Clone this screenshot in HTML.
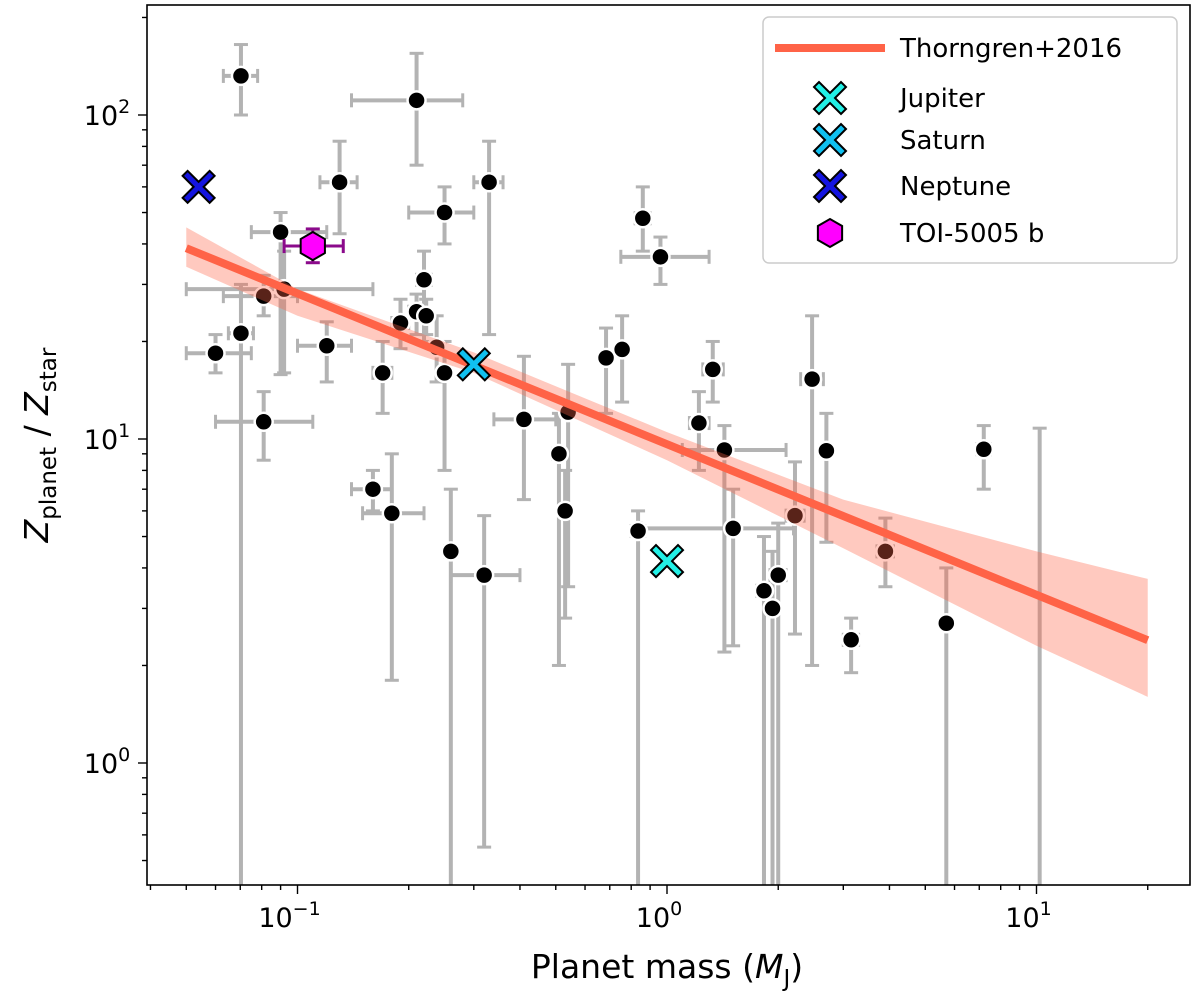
<!DOCTYPE html>
<html><head><meta charset="utf-8"><style>
html,body{margin:0;padding:0;background:#fff;}
svg{display:block;font-family:"DejaVu Sans","Liberation Sans",sans-serif;}
</style></head><body>
<svg id="chart" width="1200" height="1000" viewBox="0 0 1200 1000">
</svg>
<script>
const mass   =[0.0703,0.21,0.13,0.33,0.09,0.25,0.86,0.96,0.22,0.081,0.092,0.21,0.223,0.19,0.0703,0.238,0.12,0.06,0.684,0.756,0.17,0.25,1.33,2.47,0.41,0.54,0.081,1.22,1.43,0.51,2.7,7.2,0.16,0.53,0.18,2.22,1.51,0.835,0.26,3.9,0.32,2.0,1.83,1.93,3.15,5.7];
const zratio =[132,111,62,62,43.5,50,48,36.5,31,27.6,29,24.7,24,22.8,21.2,19.2,19.4,18.4,17.8,18.9,16.0,16.0,16.4,15.3,11.5,12.1,11.3,11.2,9.25,9.0,9.2,9.3,7.0,6.0,5.9,5.8,5.3,5.2,4.5,4.5,3.8,3.8,3.4,3.0,2.4,2.7];
const massLo =[0.063,0.14,0.115,0.3,0.075,0.2,0.82,0.75,0.21,0.063,0.05,0.2,0.215,0.18,0.065,0.23,0.1,0.05,0.66,0.73,0.16,0.24,1.25,2.3,0.34,0.52,0.06,1.15,1.1,0.49,2.6,6.9,0.14,0.51,0.15,2.1,0.85,0.8,0.25,3.7,0.26,1.9,1.75,1.85,3.0,5.5];
const massHi =[0.078,0.28,0.145,0.36,0.12,0.3,0.9,1.3,0.23,0.1,0.16,0.22,0.23,0.2,0.076,0.245,0.14,0.075,0.71,0.78,0.18,0.26,1.42,2.65,0.5,0.56,0.11,1.3,2.1,0.53,2.8,7.5,0.18,0.55,0.22,2.35,2.2,0.87,0.27,4.1,0.4,2.1,1.9,2.0,3.3,5.9];
const zLo    =[100,70,43,21,15.8,40,38,30,20,24,16,21,21,19,0.4,15,15,16,12,13,12,8,13,2.0,6.5,3.5,8.6,8,2.2,2,4.8,7,6,2.8,1.8,2.5,2.3,0.4,0.4,3.5,0.55,0.4,0.4,0.4,1.9,0.4];
const zHi    =[165,155,83,83,50,60,60,42,38,32,38,28,27,27,30,24,23,21,22,24,20,20,20,24,18,17,14,14,11,12,12,11,8,8,9,8.5,7,6,7,5.7,5.8,5.5,5,4.5,2.8,4];
const extraMass=[10.2], extraZLo=[0.4], extraZHi=[10.8];
const fitCoef=[0.984,-0.465]; // log10 intercept, slope
const fitRange=[0.05,20];
const bandMass=[0.05,0.1,0.3,1,3,10,20];
const bandUpper=[45,29,18.5,10.5,6.5,4.5,3.7];
const bandLower=[34,24,16,8.6,4.6,2.3,1.6];
const solar=[{name:'Jupiter',m:1.0,z:4.2,c:'#22f0e6'},{name:'Saturn',m:0.30,z:17.0,c:'#10c0f0'},{name:'Neptune',m:0.054,z:60,c:'#1414e0'}];
const toi={m:0.110,z:39.4,mlo:0.092,mhi:0.133,zlo:35,zhi:44.5};
const xTicks=[0.1,1,10], xTickExp=['−1','0','1'];
const yTicks=[1,10,100], yTickExp=['0','1','2'];

const L=147,R=1190,T=5,B=885;
const X=m=>667+369.5*Math.log10(m);
const Y=v=>763-324*Math.log10(v);
const svg=document.getElementById('chart');
const NS='http://www.w3.org/2000/svg';
function mk(tag,attrs,parent){const e=document.createElementNS(NS,tag);for(const k in attrs)e.setAttribute(k,attrs[k]);(parent||svg).appendChild(e);return e;}
const clip=mk('clipPath',{id:'pc'});mk('rect',{x:L,y:T,width:R-L,height:B-T},clip);
const plot=mk('g',{'clip-path':'url(#pc)'});


const ecol='#b3b3b3';
// error bars
for(let i=0;i<mass.length;i++){
  const g=mk('g',{},plot);
  
  
  const x=X(mass[i]),y=Y(zratio[i]);
  mk('line',{x1:X(massLo[i]),x2:X(massHi[i]),y1:y,y2:y,stroke:ecol,'stroke-width':4},g);
  mk('line',{x1:x,x2:x,y1:Y(zLo[i]),y2:Y(zHi[i]),stroke:ecol,'stroke-width':4},g);
  [[X(massLo[i]),y,0],[X(massHi[i]),y,0],[x,Y(zLo[i]),1],[x,Y(zHi[i]),1]].forEach(([a,b,v])=>{
    if(v) mk('line',{x1:a-7,x2:a+7,y1:b,y2:b,stroke:ecol,'stroke-width':3},g);
    else mk('line',{x1:a,x2:a,y1:b-7,y2:b+7,stroke:ecol,'stroke-width':3},g);
  });
}
for(let i=0;i<extraMass.length;i++){
  const e=mk('line',{x1:X(extraMass[i]),x2:X(extraMass[i]),y1:Y(extraZLo[i]),y2:Y(extraZHi[i]),stroke:ecol,'stroke-width':4},plot);
  
  
  mk('line',{x1:X(extraMass[i])-7,x2:X(extraMass[i])+7,y1:Y(extraZHi[i]),y2:Y(extraZHi[i]),stroke:ecol,'stroke-width':3},plot);
}
// points
for(let i=0;i<mass.length;i++){
  const c=mk('circle',{cx:X(mass[i]),cy:Y(zratio[i]),r:9,fill:'#000',stroke:'#fff','stroke-width':2.5},plot);
  
  
}
// band
let d='';
bandMass.forEach((m,i)=>{d+=(i?'L':'M')+X(m)+','+Y(bandUpper[i]);});
for(let i=bandMass.length-1;i>=0;i--)d+='L'+X(bandMass[i])+','+Y(bandLower[i]);
const band=mk('path',{d:d+'Z',fill:'#ff6347','fill-opacity':0.35,stroke:'none'},plot);


const fv=m=>Math.pow(10,fitCoef[0]+fitCoef[1]*Math.log10(m));
const fl=mk('line',{x1:X(fitRange[0]),y1:Y(fv(fitRange[0])),x2:X(fitRange[1]),y2:Y(fv(fitRange[1])),stroke:'#ff6347','stroke-width':8},plot);


function xmark(cx,cy,s,col,parent){
  const p=`M${cx-s},${cy-s+5}L${cx-s+5},${cy-s}L${cx},${cy-5}L${cx+s-5},${cy-s}L${cx+s},${cy-s+5}L${cx+5},${cy}L${cx+s},${cy+s-5}L${cx+s-5},${cy+s}L${cx},${cy+5}L${cx-s+5},${cy+s}L${cx-s},${cy+s-5}L${cx-5},${cy}Z`;
  return mk('path',{d:p,fill:col,stroke:'#000','stroke-width':2,'stroke-linejoin':'miter'},parent);
}
function hex(cx,cy,r,parent){
  let p='';for(let k=0;k<6;k++){const a=Math.PI/6+k*Math.PI/3;p+=(k?'L':'M')+(cx+r*Math.cos(a))+','+(cy+r*Math.sin(a));}
  return mk('path',{d:p+'Z',fill:'#ff00ff',stroke:'#000','stroke-width':2},parent);
}
solar.forEach(s=>{
  const e=xmark(X(s.m),Y(s.z),16,s.c,plot);
  
  
});
// TOI
const tg=mk('g',{},plot);


const tx=X(toi.m),ty=Y(toi.z),pc='#8b0a8b';
mk('line',{x1:X(toi.mlo),x2:X(toi.mhi),y1:ty,y2:ty,stroke:pc,'stroke-width':3},tg);
mk('line',{x1:tx,x2:tx,y1:Y(toi.zlo),y2:Y(toi.zhi),stroke:pc,'stroke-width':3},tg);
mk('line',{x1:X(toi.mlo),x2:X(toi.mlo),y1:ty-7,y2:ty+7,stroke:pc,'stroke-width':3},tg);
mk('line',{x1:X(toi.mhi),x2:X(toi.mhi),y1:ty-7,y2:ty+7,stroke:pc,'stroke-width':3},tg);
mk('line',{x1:tx-7,x2:tx+7,y1:Y(toi.zlo),y2:Y(toi.zlo),stroke:pc,'stroke-width':3},tg);
mk('line',{x1:tx-7,x2:tx+7,y1:Y(toi.zhi),y2:Y(toi.zhi),stroke:pc,'stroke-width':3},tg);
hex(tx,ty,14,tg);
// frame
const fr=mk('rect',{x:L,y:T,width:R-L,height:B-T,fill:'none',stroke:'#000','stroke-width':1.6});


// ticks
const xa=mk('g',{});
for(let e=-2;e<=1;e++)for(let k=1;k<10;k++){const m=k*Math.pow(10,e),x=X(m);if(x<L||x>R)continue;
  mk('line',{x1:x,x2:x,y1:B,y2:B+(k==1?9:5),stroke:'#000','stroke-width':1.4},xa);}
xTicks.forEach((m,i)=>{const t=mk('text',{x:X(m)-8,y:B+42,'font-size':27,'text-anchor':'middle'},xa);
  
  t.innerHTML=`10<tspan dy="-12" font-size="19">${xTickExp[i]}</tspan>`;});
const ya=mk('g',{});
for(let e=-1;e<=2;e++)for(let k=1;k<10;k++){const v=k*Math.pow(10,e),y=Y(v);if(y<T||y>B)continue;
  mk('line',{x1:L,x2:L-(k==1?9:5),y1:y,y2:y,stroke:'#000','stroke-width':1.4},ya);}
yTicks.forEach((v,i)=>{const t=mk('text',{x:L-40,y:Y(v)+10,'font-size':27,'text-anchor':'middle'},ya);
  
  t.innerHTML=`10<tspan dy="-12" font-size="19">${yTickExp[i]}</tspan>`;});
const xl=mk('text',{x:667,y:978,'font-size':33,'text-anchor':'middle'});

xl.innerHTML='Planet mass (<tspan font-style="italic">M</tspan><tspan font-size="23" dy="8">J</tspan><tspan dy="-8">)</tspan>';
const yl=mk('text',{x:0,y:0,'font-size':33,'text-anchor':'middle',transform:'translate(48,445) rotate(-90)'});

yl.innerHTML='<tspan font-style="italic">Z</tspan><tspan font-size="23" dy="8">planet</tspan><tspan dy="-8"> / </tspan><tspan font-style="italic">Z</tspan><tspan font-size="23" dy="8">star</tspan>';
// legend
const lg=mk('g',{});
mk('rect',{x:763,y:17,width:414,height:246,rx:6,fill:'#fff','fill-opacity':0.85,stroke:'#ccc','stroke-width':1.5},lg);
const rows=[['Thorngren+2016',48],['Jupiter',98],['Saturn',140],['Neptune',186],['TOI-5005 b',233]];
rows.forEach(([n,y],i)=>{
  const e=mk('g',{},lg);
  
  
  if(i==0)mk('line',{x1:775,x2:885,y1:y,y2:y,stroke:'#ff6347','stroke-width':8},e);
  else if(i<4)xmark(830,y,16,solar[i-1].c,e);
  else hex(830,y,14,e);
  const t=mk('text',{x:900,y:y+9,'font-size':26},e);t.textContent=n;
});
</script>
</body></html>
